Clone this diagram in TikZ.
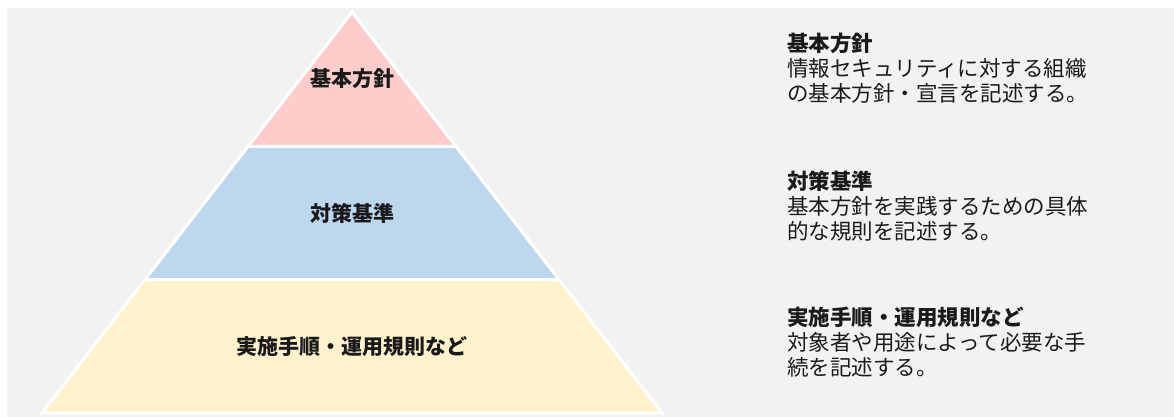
\documentclass[tikz,border=0pt]{standalone}
\usepackage{fontspec}
\newfontfamily\jp{Noto Sans CJK JP}
\definecolor{bggray}{HTML}{F2F2F2}
\definecolor{pinkband}{HTML}{FFCCCC}
\definecolor{blueband}{HTML}{BDD7EE}
\definecolor{yellowband}{HTML}{FFF2CC}
\definecolor{txt}{HTML}{1A1A1A}
\tikzset{
  band/.style={draw=white, line width=3pt, line join=miter},
  plabel/.style={inner sep=0pt, anchor=base, text=txt, font=\jp\bfseries\fontsize{21}{25}\selectfont},
  desc/.style={inner sep=0pt, anchor=base west, text=txt, font=\jp\fontsize{21.5}{25}\selectfont},
}
\begin{document}
\begin{tikzpicture}[x=1pt,y=-1pt]
\useasboundingbox (0,0) rectangle (1174,417);
\fill[bggray] (7,8) rectangle (1174,417);
% pyramid corners
\coordinate (apex) at (352,12);
\coordinate (l1) at (248,146.5);
\coordinate (r1) at (456,146.5);
\coordinate (l2) at (145,279.5);
\coordinate (r2) at (559,279.5);
\coordinate (bl) at (42,413);
\coordinate (br) at (662,413);
\filldraw[band, fill=pinkband] (apex) -- (r1) -- (l1) -- cycle;
\filldraw[band, fill=blueband] (l1) -- (r1) -- (r2) -- (l2) -- cycle;
\filldraw[band, fill=yellowband] (l2) -- (r2) -- (br) -- (bl) -- cycle;
% pyramid labels
\node[plabel] (p1) at (352,87) {基本方針};
\node[plabel] (p2) at (352,221) {対策基準};
\node[plabel] (p3) at (352,354) {実施手順・運用規則など};
% descriptions
\node[desc] (d1) at (787,52) {\parbox[t]{400pt}{\fontsize{21.5}{25}\selectfont\textbf{基本方針}\\情報セキュリティに対する組織\\の基本方針・宣言を記述する。}};
\node[desc] (d2) at (787,189) {\parbox[t]{400pt}{\fontsize{21.5}{25}\selectfont\textbf{対策基準}\\基本方針を実践するための具体\\的な規則を記述する。}};
\node[desc] (d3) at (787,325) {\parbox[t]{400pt}{\fontsize{21.5}{25}\selectfont\textbf{実施手順・運用規則など}\\対象者や用途によって必要な手\\続を記述する。}};
\end{tikzpicture}
\end{document}
